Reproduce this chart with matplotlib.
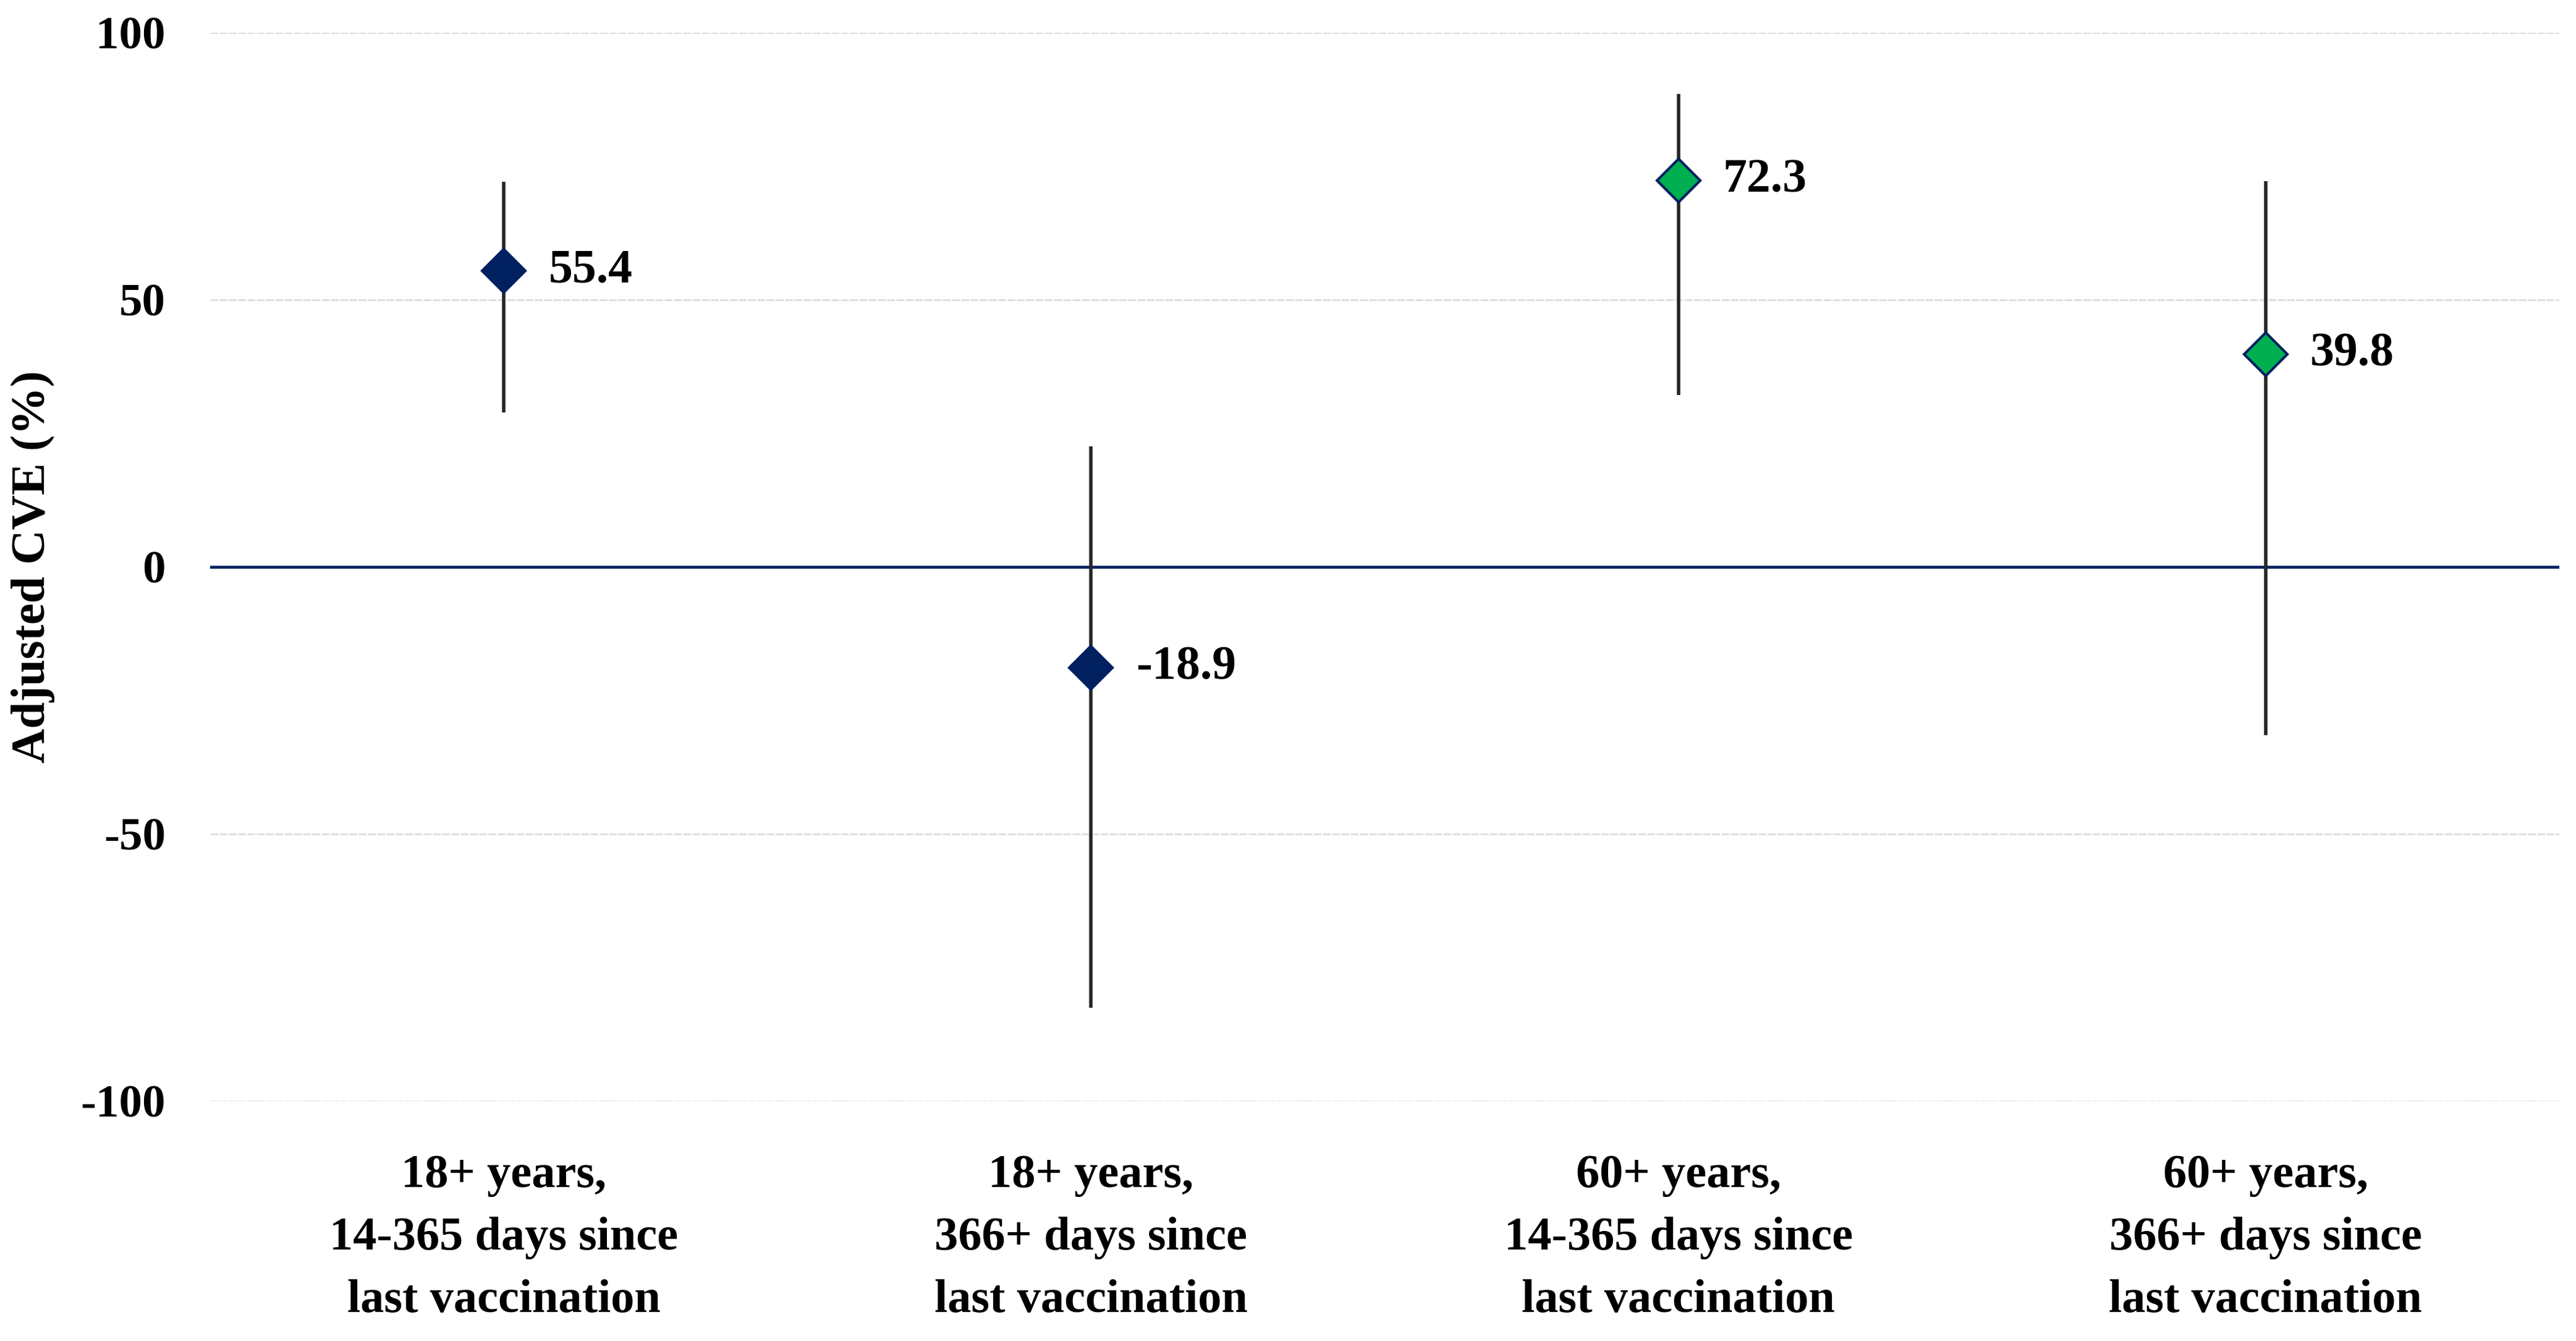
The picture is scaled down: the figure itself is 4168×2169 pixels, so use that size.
import matplotlib
matplotlib.use("Agg")
import matplotlib.pyplot as plt
import numpy as np

# values
groups = ["18+ years,\n14-365 days since\nlast vaccination",
          "18+ years,\n366+ days since\nlast vaccination",
          "60+ years,\n14-365 days since\nlast vaccination",
          "60+ years,\n366+ days since\nlast vaccination"]
cve = [55.4, -18.9, 72.3, 39.8]
ci_low = [28.9, -82.5, 32.2, -31.5]
ci_high = [72.1, 22.6, 88.5, 72.2]
fill_colors = ["#002060", "#002060", "#00B050", "#00B050"]
yticks = [-100, -50, 0, 50, 100]

plt.rcParams['font.family'] = ['Liberation Serif', 'DejaVu Serif']
plt.rcParams['font.weight'] = 'bold'

fig = plt.figure(figsize=(20.84, 10.845), dpi=200)
ax = fig.add_axes([0.0816, 0.1789, 0.9119, 0.7967])

x = np.arange(len(groups))
navy = "#002060"

# grid and zero line
for t in yticks:
    if t != 0:
        ax.axhline(t, color="#d9d9d9", lw=0.9, ls=(0, (5, 1)), zorder=1)
ax.axhline(0, color=navy, lw=1.7, zorder=2)

# confidence intervals
ax.vlines(x, ci_low, ci_high, color="#262626", lw=2.0, zorder=3)

# point estimates
for xi, v, c in zip(x, cve, fill_colors):
    ax.plot(xi, v, marker='D', ms=18, mfc=c, mec=navy, mew=1.5, zorder=4)
    ax.annotate(f"{v:.1f}", xy=(xi, v), xytext=(26, 0), textcoords='offset points',
                ha='left', va='center', fontsize=28, fontweight='bold', color='black')

ax.set_xlim(-0.5, len(groups) - 0.5)
ax.set_ylim(-100, 100)
ax.set_yticks(yticks)
ax.set_yticklabels([str(t) for t in yticks], fontsize=27, fontweight='bold')
ax.set_xticks(x)
ax.set_xticklabels(groups, fontsize=27.5, fontweight='bold', linespacing=1.6)
ax.tick_params(axis='both', length=0)
ax.tick_params(axis='y', pad=26)
ax.tick_params(axis='x', pad=31)
ax.set_ylabel("Adjusted CVE (%)", fontsize=28, fontweight='bold')
ax.yaxis.set_label_coords(-0.066, 0.5)

for s in ax.spines.values():
    s.set_visible(False)

fig.savefig("out.png", dpi=200, facecolor='white')
